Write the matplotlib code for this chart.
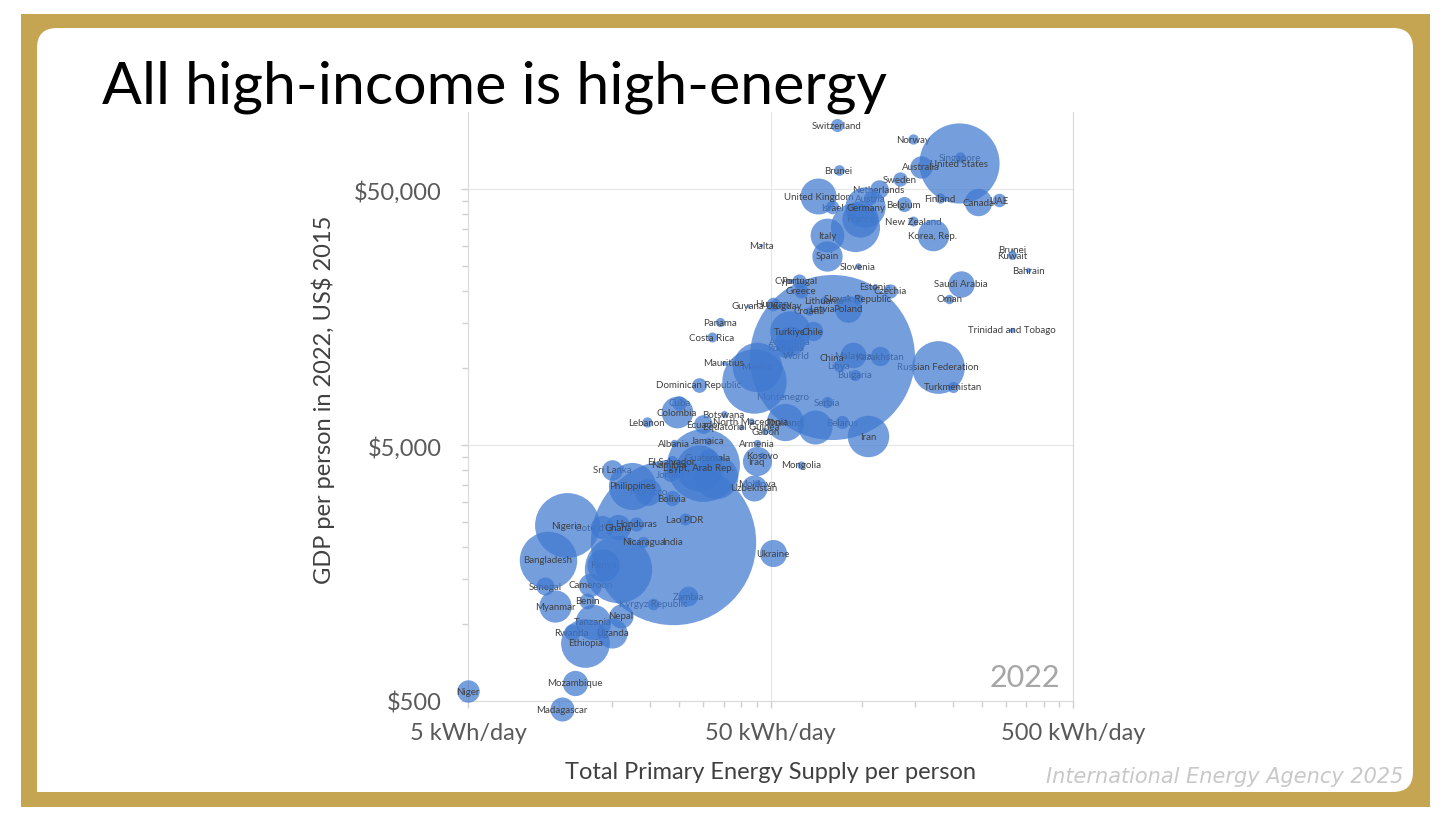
import matplotlib
matplotlib.use("Agg")
import numpy as np
import matplotlib.pyplot as plt
from matplotlib.patches import Rectangle, FancyBboxPatch
from matplotlib.ticker import FixedLocator, NullFormatter

# country, energy supply (kWh/day per person), GDP per person (US$ 2015), population (millions)
NAMES = [
    "Switzerland", "Norway", "Singapore", "United States", "Brunei", "Australia", "Sweden",
    "Netherlands", "Austria", "United Kingdom", "Israel", "Germany", "Belgium", "Finland",
    "Canada", "UAE", "France", "Japan", "New Zealand", "Korea, Rep.", "Italy", "Spain",
    "Malta", "Slovenia", "Brunei", "Kuwait", "Bahrain", "Saudi Arabia", "Oman",
    "Trinidad and Tobago", "Cyprus", "Portugal", "Greece", "Estonia", "Czechia", "Guyana",
    "Hungary", "Uruguay", "Lithuania", "Slovak Republic", "Poland", "Croatia", "Latvia",
    "Panama", "Costa Rica", "Turkiye", "Chile", "Argentina", "Romania", "World", "China",
    "Malaysia", "Kazakhstan", "Libya", "Bulgaria", "Russian Federation", "Turkmenistan",
    "Mauritius", "Mexico", "Brazil", "Dominican Republic", "Cuba", "Colombia", "Botswana",
    "Lebanon", "Ecuador", "North Macedonia", "Equatorial Guinea", "Gabon", "Montenegro",
    "Serbia", "Thailand", "South Africa", "Belarus", "Iran", "Armenia", "Kosovo", "Iraq",
    "Mongolia", "Moldova", "Uzbekistan", "Albania", "Jamaica", "Guatemala",
    "Egypt, Arab Rep.", "Indonesia", "Viet Nam", "El Salvador", "Namibia", "Jordan",
    "Sri Lanka", "Philippines", "Morocco", "Bolivia", "Lao PDR", "Nigeria", "Cote d'Ivoire",
    "Ghana", "Honduras", "Nicaragua", "India", "Bangladesh", "Pakistan", "Kenya", "Senegal",
    "Cameroon", "Zambia", "Kyrgyz Republic", "Benin", "Myanmar", "Nepal", "Tanzania",
    "Rwanda", "Uganda", "Ethiopia", "Mozambique", "Niger", "Madagascar", "Ukraine",
]
ENERGY = [
    83, 148, 211, 210, 84, 157, 134,
    114, 107, 72, 80, 103, 138, 182,
    243, 285, 99, 95, 148, 172, 77, 77,
    46.5, 97, 314, 314, 355, 213, 195,
    314, 58, 62, 63, 111, 124, 42,
    51, 55, 75, 97, 90, 67, 74,
    34, 32, 58, 69, 58, 56, 61, 80,
    94, 115, 84, 95, 179, 200,
    35, 45, 44, 29, 25, 24.5, 35,
    19.5, 30, 43, 40, 48, 55,
    77, 56, 70, 86, 105, 45, 47, 45,
    63, 45, 44, 24, 31, 31,
    29, 30, 33, 23.6, 23, 23.3,
    15, 17.4, 19.7, 23.6, 26, 10.6, 13.9,
    15.7, 18, 19, 23.8, 9.2, 15.7, 14, 9,
    12.7, 26.7, 20.5, 12.4, 9.7, 16, 12.9,
    11, 15, 12.2, 11.3, 5.0, 10.2, 51,
]
GDP = [
    88900, 78400, 66700, 63200, 59300, 61000, 54700,
    50000, 46100, 46900, 42500, 42500, 43700, 46100,
    44500, 45300, 38200, 35500, 37500, 33000, 33000, 27400,
    30200, 25000, 28900, 27600, 24100, 21300, 18600,
    14100, 21900, 21900, 20000, 20900, 20000, 17500,
    17800, 17500, 18400, 18600, 17000, 16700, 17000,
    15100, 13200, 13900, 13900, 12700, 12000, 11200, 11000,
    11200, 11100, 10200, 9400, 10100, 8430,
    10500, 10100, 8900, 8600, 7300, 6700, 6600,
    6150, 6040, 6200, 5900, 5670, 7770,
    7360, 6150, 5900, 6150, 5420, 5090, 4570, 4330,
    4180, 3550, 3400, 5090, 5190, 4450,
    4070, 4180, 3750, 4330, 4180, 3850,
    4000, 3460, 3280, 3100, 2570, 2435, 2390,
    2390, 2460, 2090, 2090, 1780, 1640, 1700, 1405,
    1420, 1285, 1200, 1230, 1175, 1075, 1020,
    930, 922, 843, 588, 547, 465, 1890,
]
POP = [
    8.8, 5.5, 5.6, 333, 5.9, 26, 10.5,
    17.7, 9.0, 67, 9.5, 84, 11.7, 5.5,
    39, 9.4, 68, 125, 5.1, 51.7, 59, 47.6,
    0.5, 2.1, 0.45, 4.3, 1.5, 36, 4.6,
    1.5, 1.2, 10.4, 10.4, 1.3, 10.5, 0.8,
    9.6, 3.4, 2.8, 5.4, 37, 3.9, 1.9,
    4.4, 5.2, 85, 19.6, 46, 19, 0, 1412,
    34, 19.6, 6.8, 6.5, 144, 6.4,
    1.3, 127, 215, 11.2, 11, 52, 2.6,
    5.5, 18, 2.1, 1.7, 2.4, 0.6,
    6.7, 72, 60, 9.2, 89, 2.8, 1.8, 44,
    3.4, 2.5, 35, 2.8, 2.8, 17.4,
    111, 275, 98, 6.3, 2.6, 11.3,
    22, 115, 37, 12, 7.5, 218, 28,
    33, 10.4, 6.9, 1417, 171, 235, 54, 17,
    28, 20, 7, 13, 54, 30, 65,
    13.8, 47, 123, 33, 26, 30, 38,
]

X_TICKS = [5, 50, 500]
X_TICK_LABELS = ["5 kWh/day", "50 kWh/day", "500 kWh/day"]
Y_TICKS = [500, 5000, 50000]
Y_TICK_LABELS = ["$500", "$5,000", "$50,000"]

# points whose labels end up underneath the big bubbles, the big bubbles, and unlabelled ones
BEHIND = {"World", "Montenegro", "Serbia", "Malaysia", "Kazakhstan", "Libya", "Bulgaria",
          "Russian Federation", "Turkmenistan", "Argentina", "Romania", "Belarus", "Mexico",
          "Dominican Republic", "Zambia", "Kyrgyz Republic", "Kenya", "Senegal", "Thailand",
          "Morocco", "Jordan", "Uganda", "Iraq", "France", "Israel", "Cameroon", "Tanzania",
          "Cote d'Ivoire"}
LARGE = {"China", "India", "Brazil", "Indonesia", "Pakistan", "Japan", "South Africa", "Viet Nam"}
UNLABELLED = {"Japan", "Brazil", "Indonesia", "Pakistan", "Viet Nam", "South Africa"}

BUBBLE = "#4079d0"
GOLD = "#c6a552"
SIZE = 10.0  # marker area (pt^2) per million people

plt.rcParams["font.family"] = ["Lato", "DejaVu Sans"]

fig = plt.figure(figsize=(14.56, 8.2), dpi=100)
inch = fig.dpi_scale_trans

# gold slide frame with white card
fig.add_artist(Rectangle((0.21, 0.12), 14.09, 7.93, transform=inch, facecolor=GOLD,
                         edgecolor="none", zorder=-3))
fig.add_artist(FancyBboxPatch((0.37, 0.27), 13.76, 7.64, transform=inch,
                              boxstyle="round,pad=0,rounding_size=0.2",
                              facecolor="white", edgecolor="none", zorder=-2))
fig.add_artist(Rectangle((0.37, 0.27), 0.3, 0.3, transform=inch, facecolor="white",
                         edgecolor="none", zorder=-1))

fig.text(102 / 1456, 1 - 103 / 820, "All high-income is high-energy", fontsize=42.5,
         color="black", va="baseline", ha="left")
fig.text(1403 / 1456, 1 - 777 / 820, "International Energy Agency 2025", fontsize=15,
         color="#c8c8c8", style="italic", family="DejaVu Sans", ha="right", va="center")

ax = fig.add_axes([468 / 1456, 1 - 702 / 820, 605 / 1456, 589 / 820])
ax.set_facecolor("none")
ax.set_xscale("log")
ax.set_yscale("log")
ax.set_xlim(5, 500)
ax.set_ylim(500, 100000)

ax.xaxis.set_major_locator(FixedLocator(X_TICKS))
ax.xaxis.set_minor_locator(FixedLocator(np.concatenate([np.arange(10, 50, 5), np.arange(100, 500, 50)])))
ax.yaxis.set_major_locator(FixedLocator(Y_TICKS))
ax.yaxis.set_minor_locator(FixedLocator(np.concatenate([np.arange(1000, 5000, 500), np.arange(10000, 50000, 5000)])))
ax.set_xticklabels(X_TICK_LABELS)
ax.set_yticklabels(Y_TICK_LABELS)
ax.xaxis.set_minor_formatter(NullFormatter())
ax.yaxis.set_minor_formatter(NullFormatter())
ax.tick_params(which="both", direction="out", color="#d0d0d0", width=1, labelcolor="#595959")
ax.tick_params(which="major", length=5, labelsize=17)
ax.tick_params(which="minor", length=4)
ax.tick_params(axis="x", which="major", pad=10)
ax.tick_params(axis="y", which="major", pad=14)

for side in ("left", "bottom", "right"):
    ax.spines[side].set_color("#d9d9d9")
ax.spines["top"].set_visible(False)
ax.grid(which="major", color="#e6e6e6", lw=0.8)
ax.set_axisbelow(True)

ax.set_xlabel("Total Primary Energy Supply per person", fontsize=17, color="#404040", va="center")
ax.xaxis.set_label_coords(0.5, -0.1205)
ax.set_ylabel("GDP per person in 2022, US$ 2015", fontsize=17, color="#404040", va="center")
ax.yaxis.set_label_coords(-0.2397, 0.513)

ax.text(0.9785, 0.0407, "2022", transform=ax.transAxes, fontsize=22, color="#a6a6a6",
        ha="right", va="center")

order = sorted(range(len(NAMES)),
               key=lambda i: 0 if NAMES[i] in BEHIND else (1 if NAMES[i] in LARGE else 2))
for k, i in enumerate(order):
    z = 3 + k * 0.01
    if POP[i] > 0:
        ax.scatter(ENERGY[i], GDP[i], s=POP[i] * SIZE, color=BUBBLE, alpha=0.72,
                   linewidths=0, zorder=z, clip_on=False)
    if NAMES[i] not in UNLABELLED:
        ax.text(ENERGY[i], GDP[i], NAMES[i], fontsize=7, color="#404040", ha="center",
                va="center", zorder=z + 0.005, clip_on=False)

fig.savefig("out.png", dpi=100, facecolor="white")
